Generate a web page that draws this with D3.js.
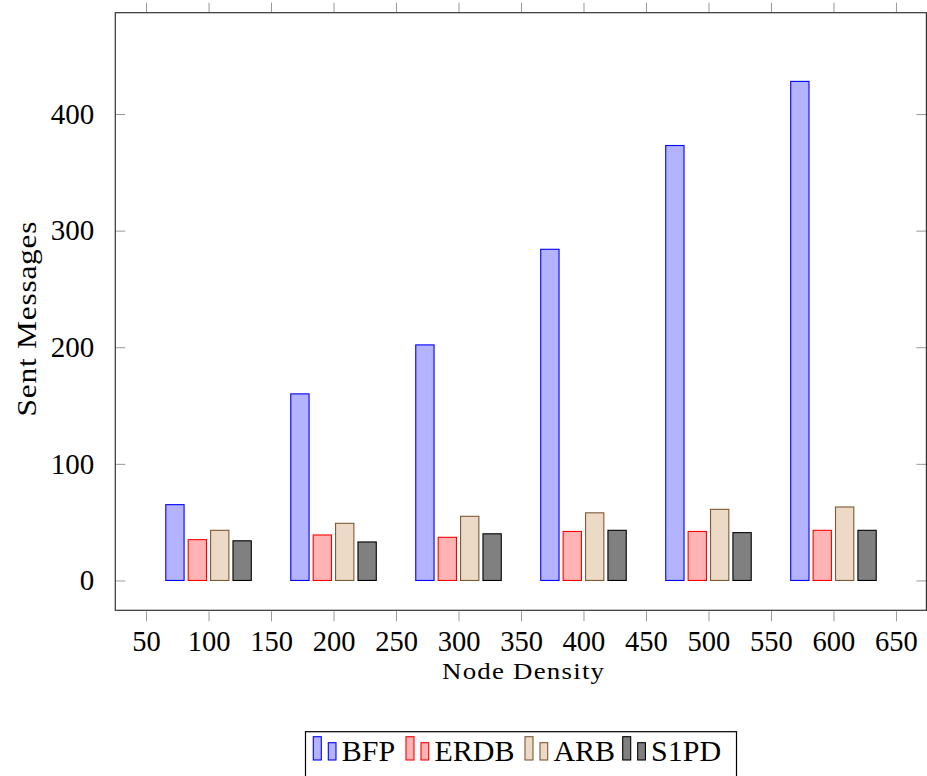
<!DOCTYPE html>
<html>
<head>
<meta charset="utf-8">
<script src="https://cdn.jsdelivr.net/npm/d3@7"></script>
<style>
  html, body { margin: 0; padding: 0; background: #fff; }
  svg { display: block; }
  text { font-family: "Liberation Serif", "Times New Roman", serif; fill: #000; }
</style>
</head>
<body>
<svg id="chart" width="927" height="776"></svg>
<script>
// ---- data ----
const categories = [100, 200, 300, 400, 500, 600];
const seriesNames = ["BFP", "ERDB", "ARB", "S1PD"];
const BFP  = [65, 160, 202, 284, 373, 428];
const ERDB = [35, 39, 37, 42, 42, 43];
const ARB  = [43, 49, 55, 58, 61, 63];
const S1PD = [34, 33, 40, 43, 41, 43];
const xTicks = [50, 100, 150, 200, 250, 300, 350, 400, 450, 500, 550, 600, 650];
const yTicks = [0, 100, 200, 300, 400];
const xLabel = "Node Density";
const yLabel = "Sent Messages";

const seriesValues = [BFP, ERDB, ARB, S1PD];
const fills   = ["#b3b3ff", "#ffb3b3", "#ecd9c6", "#808080"];
const strokes = ["#0000ff", "#ff0000", "#7d5a36", "#000000"];

// ---- layout ----
const L = 115.3, R = 926.4, T = 12.7, B = 610.3;
const svg = d3.select("#chart");

const x = d3.scaleLinear().domain([25.4, 674.6]).range([L, R + 0.3]);
const y = d3.scaleLinear().domain([-25.6, 486.9]).range([B, T]);

const barW = 18.3, barStep = 22.4;

// bars
seriesValues.forEach((vals, si) => {
  const off = (si - 1.5) * barStep;
  svg.append("g").selectAll("rect")
    .data(categories.map((c, i) => ({ c, v: vals[i] })))
    .join("rect")
    .attr("x", d => x(d.c) + off - barW / 2)
    .attr("y", d => y(d.v))
    .attr("width", barW)
    .attr("height", d => y(0) - y(d.v))
    .attr("fill", fills[si])
    .attr("stroke", strokes[si])
    .attr("stroke-width", 1.1);
});

// x axis (ticks outside, bottom and top)
const xAxisB = d3.axisBottom(x).tickValues(xTicks).tickSize(10).tickPadding(9).tickFormat(d3.format("d"));
const gxb = svg.append("g").attr("transform", `translate(0,${B + 1})`).call(xAxisB);
gxb.select(".domain").remove();
gxb.selectAll(".tick line").attr("stroke", "#999").attr("stroke-width", 1);
gxb.selectAll(".tick text").style("font-size", "28.5px").style("font-family", "Liberation Serif");

const xAxisT = d3.axisTop(x).tickValues(xTicks).tickSize(10).tickFormat("");
const gxt = svg.append("g").attr("transform", `translate(0,${T})`).call(xAxisT);
gxt.select(".domain").remove();
gxt.selectAll(".tick line").attr("stroke", "#999").attr("stroke-width", 1);

// y axis (ticks inside, left and right)
const yAxisL = d3.axisLeft(y).tickValues(yTicks).tickSizeInner(-10).tickSizeOuter(0).tickPadding(21).tickFormat(d3.format("d"));
const gyl = svg.append("g").attr("transform", `translate(${L},0)`).call(yAxisL);
gyl.select(".domain").remove();
gyl.selectAll(".tick line").attr("stroke", "#999").attr("stroke-width", 1);
gyl.selectAll(".tick text").style("font-size", "29px").style("font-family", "Liberation Serif");

const yAxisR = d3.axisRight(y).tickValues(yTicks).tickSizeInner(-10).tickSizeOuter(0).tickFormat("");
const gyr = svg.append("g").attr("transform", `translate(${R},0)`).call(yAxisR);
gyr.select(".domain").remove();
gyr.selectAll(".tick line").attr("stroke", "#999").attr("stroke-width", 1);

// frame
svg.append("rect")
  .attr("x", L).attr("y", T).attr("width", R - L).attr("height", B - T)
  .attr("fill", "none").attr("stroke", "#333").attr("stroke-width", 1.2);

// axis labels (slightly widened to mimic the wide serif of the original)
const sx = 1.12;
svg.append("text")
  .attr("transform", `translate(523,678.5) scale(${sx},1)`)
  .attr("text-anchor", "middle")
  .attr("textLength", 162 / sx).attr("lengthAdjust", "spacing")
  .style("font-size", "24px")
  .text(xLabel);

svg.append("text")
  .attr("transform", `translate(36,319) rotate(-90) scale(${sx},1)`)
  .attr("text-anchor", "middle")
  .attr("textLength", 195 / sx).attr("lengthAdjust", "spacing")
  .style("font-size", "28px")
  .text(yLabel);

// legend
const leg = svg.append("g");
leg.append("rect")
  .attr("x", 305.5).attr("y", 731.7).attr("width", 431).attr("height", 70)
  .attr("fill", "#fff").attr("stroke", "#000").attr("stroke-width", 1.2);

const legX = [313.3, 406, 525, 622.7];
seriesNames.forEach((name, si) => {
  const gx = legX[si];
  leg.append("rect").attr("x", gx).attr("y", 736.7).attr("width", 8).attr("height", 23.3)
    .attr("fill", fills[si]).attr("stroke", strokes[si]).attr("stroke-width", 1.1);
  leg.append("rect").attr("x", gx + 15).attr("y", 742.7).attr("width", 7.7).attr("height", 17.3)
    .attr("fill", fills[si]).attr("stroke", strokes[si]).attr("stroke-width", 1.1);
  leg.append("text").attr("x", gx + 28.4).attr("y", 761)
    .style("font-size", "30px")
    .text(name);
});
</script>
</body>
</html>
